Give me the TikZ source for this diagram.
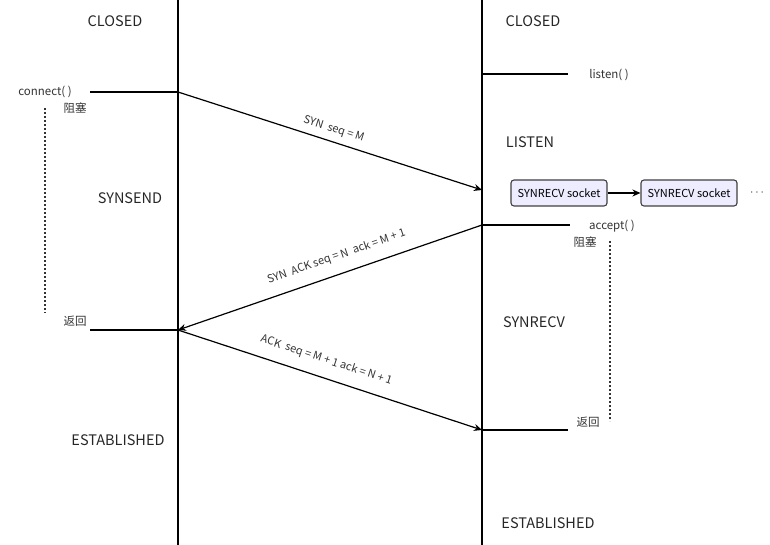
\documentclass[tikz,border=0pt]{standalone}
\usepackage{fontspec}
\setmainfont{Noto Sans CJK SC}
\usetikzlibrary{arrows.meta,calc}
\begin{document}
\begin{tikzpicture}[x=1pt,y=-1pt,
  state/.style={font=\fontsize{14.5}{16}\selectfont, text=black!85, inner sep=0pt},
  small/.style={font=\fontsize{11.5}{13}\selectfont, text=black!80, inner sep=0pt},
  msg/.style={font=\fontsize{11}{13}\selectfont, text=black!80, sloped, above=3pt},
  life/.style={line width=1.2pt, black},
  hline/.style={line width=1.2pt, black},
  arr/.style={line width=1.2pt, black, -{Stealth[length=8pt,width=7pt]}},
  wait/.style={line width=1.5pt, black!80, dash pattern=on 2pt off 2pt},
  sock/.style={draw=black!75, line width=1.1pt, rounded corners=3pt, fill=blue!7!white, minimum width=96pt, minimum height=26pt, inner sep=0pt, font=\fontsize{11}{13}\selectfont}
]
\useasboundingbox (0,0) rectangle (770,545);
% lifelines
\coordinate (Lt) at (178,0); \coordinate (Lb) at (178,545);
\coordinate (Rt) at (482,0); \coordinate (Rb) at (482,545);
\draw[life] (Lt) -- (Lb);
\draw[life] (Rt) -- (Rb);
% states
\node[state] (c1) at (115,21) {CLOSED};
\node[state] (c2) at (533,21) {CLOSED};
\node[state] (ss) at (130,198) {SYNSEND};
\node[state] (ls) at (530,142) {LISTEN};
\node[state] (sr) at (534,322) {SYNRECV};
\node[state] (e1) at (118,440) {ESTABLISHED};
\node[state] (e2) at (548,523) {ESTABLISHED};
% client calls
\coordinate (cA) at (90,92); \coordinate (cL) at (178,92);
\node[small] (conn) at (45,92) {connect( )};
\draw[hline] (cA) -- (cL);
\node[small] (blk1) at (75,108) {阻塞};
\coordinate (d1a) at (45,108); \coordinate (d1b) at (45,313);
\draw[wait] (d1a) -- (d1b);
\node[small] (ret1) at (75,321) {返回};
\coordinate (rA) at (90,330); \coordinate (rL) at (178,330);
\draw[hline] (rA) -- (rL);
% server calls
\coordinate (lsA) at (482,74); \coordinate (lsB) at (568,74);
\draw[hline] (lsA) -- (lsB);
\node[small] (lis) at (609,75) {listen( )};
\coordinate (acA) at (482,225); \coordinate (acB) at (570,225);
\draw[hline] (acA) -- (acB);
\node[small] (acc) at (612,226) {accept( )};
\node[small] (blk2) at (585,242) {阻塞};
\coordinate (d2a) at (610,241); \coordinate (d2b) at (610,421);
\draw[wait] (d2a) -- (d2b);
\node[small] (ret2) at (588,422) {返回};
\coordinate (rsA) at (482,430); \coordinate (rsB) at (568,430);
\draw[hline] (rsA) -- (rsB);
% queue
\node[sock] (q1) at (559,193) {SYNRECV socket};
\node[sock] (q2) at (689,193) {SYNRECV socket};
\draw[arr] (q1) -- (q2);
\node[inner sep=0pt, font=\fontsize{12}{14}\selectfont, text=black!80] (dots) at (757,193) {$\cdots$};
% messages
\coordinate (m1a) at (178,92); \coordinate (m1b) at (482,190);
\draw[arr] (m1a) -- node[msg, pos=0.5] {SYN\ \ seq = M} (m1b);
\coordinate (m2a) at (482,225); \coordinate (m2b) at (178,330);
\draw[arr] (m2a) -- node[msg, pos=0.46, above=5pt] {SYN\ \ ACK seq = N\ \ ack = M + 1} (m2b);
\coordinate (m3a) at (178,330); \coordinate (m3b) at (482,430);
\draw[arr] (m3a) -- node[msg, pos=0.47, above=5pt] {ACK\ \ seq = M + 1 ack = N + 1} (m3b);
\end{tikzpicture}
\end{document}
